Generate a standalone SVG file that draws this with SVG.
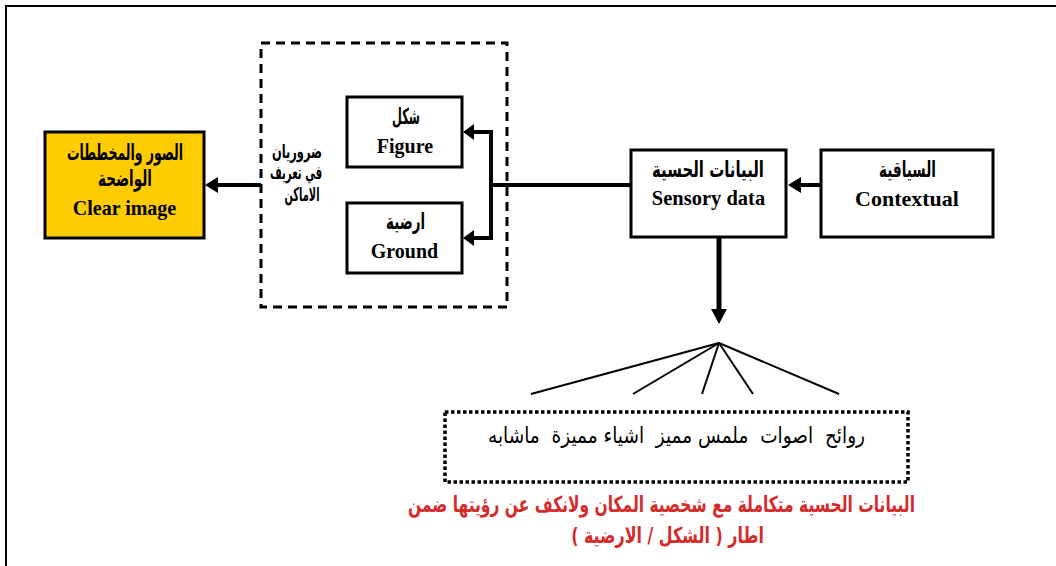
<svg xmlns="http://www.w3.org/2000/svg" width="1056" height="566" viewBox="0 0 1056 566">
<style>
.box{fill:#fff;stroke:#000;stroke-width:3}
.en{font-family:"Liberation Serif","Times New Roman",serif;font-weight:bold;font-size:20px;fill:#000;text-anchor:middle}
.ar{font-family:"DejaVu Sans","Noto Sans",sans-serif;font-weight:bold;font-size:22px;fill:#000;text-anchor:middle;direction:rtl}
.side{font-size:19px}
.items{font-weight:normal;font-size:22px;white-space:pre}
.red{fill:#D42B2B;font-size:22px}
.conn{stroke:#000;stroke-width:4;fill:none}
.fan{stroke:#000;stroke-width:2;fill:none}
.head{fill:#000;stroke:none}
</style>
<rect width="1056" height="566" fill="#fff"/>
<path d="M6 566 V6 H1056" fill="none" stroke="#000" stroke-width="2"/>

<g id="group-dashed">
<rect x="261" y="43" width="246" height="264" fill="none" stroke="#000" stroke-width="3" stroke-dasharray="9 6"/>
<text class="ar side" x="297" y="158" textLength="50" lengthAdjust="spacingAndGlyphs">ضروريان</text>
<text class="ar side" x="296" y="179" textLength="52" lengthAdjust="spacingAndGlyphs">في تعريف</text>
<text class="ar side" x="302" y="201" textLength="35" lengthAdjust="spacingAndGlyphs">الاماكن</text>
</g>

<g id="node-clear">
<rect x="45" y="132" width="159" height="106" fill="#FFCC00" stroke="#000" stroke-width="3"/>
<text class="ar" x="125" y="160" textLength="116" lengthAdjust="spacingAndGlyphs">الصور والمخططات</text>
<text class="ar" x="125" y="186" textLength="54" lengthAdjust="spacingAndGlyphs">الواضحة</text>
<text class="en" x="124.5" y="215">Clear image</text>
</g>

<g id="node-figure">
<rect class="box" x="347" y="97" width="115" height="70"/>
<text class="ar" x="406" y="124" textLength="28" lengthAdjust="spacingAndGlyphs">شكل</text>
<text class="en" x="405" y="153">Figure</text>
</g>

<g id="node-ground">
<rect class="box" x="347" y="203" width="115" height="70"/>
<text class="ar" x="405.5" y="229" textLength="39" lengthAdjust="spacingAndGlyphs">ارضية</text>
<text class="en" x="404.5" y="258">Ground</text>
</g>

<g id="node-sensory">
<rect class="box" x="631" y="150" width="155" height="87"/>
<text class="ar" x="708" y="177" textLength="112" lengthAdjust="spacingAndGlyphs">البيانات الحسية</text>
<text class="en" x="708.5" y="205" style="font-size:20.5px">Sensory data</text>
</g>

<g id="node-contextual">
<rect class="box" x="821" y="150" width="172" height="87"/>
<text class="ar" x="907.5" y="177" textLength="57" lengthAdjust="spacingAndGlyphs">السياقية</text>
<text class="en" x="907" y="206" style="font-size:22px">Contextual</text>
</g>

<g id="node-items">
<rect x="445" y="412" width="463" height="70" fill="none" stroke="#000" stroke-width="3.5" stroke-dasharray="3.5 2.5"/>
<text class="ar items" x="676.5" y="443" textLength="377" lengthAdjust="spacingAndGlyphs">روائح  اصوات  ملمس مميز  اشياء مميزة  ماشابه</text>
</g>

<g id="note">
<text class="ar red" transform="translate(661.5 512) scale(0.704 1)" x="0" y="0">البيانات الحسية متكاملة مع شخصية المكان ولانكف عن رؤيتها ضمن</text>
<text class="ar red" transform="translate(667.5 543) scale(0.724 1)" x="0" y="0">اطار ( الشكل / الارضية )</text>
</g>

<g id="connectors">
<line class="conn" x1="261" y1="185" x2="216" y2="185"/>
<polygon class="head" points="205,185 218,177 218,193"/>
<line class="conn" x1="631" y1="185" x2="491" y2="185"/>
<polyline class="conn" points="472,132 491,132 491,238 472,238"/>
<polygon class="head" points="463,132 474,124 474,140"/>
<polygon class="head" points="463,238 474,230 474,246"/>
<line class="conn" x1="821" y1="185" x2="798" y2="185"/>
<polygon class="head" points="788,185 801,177 801,193"/>
<line x1="719" y1="237" x2="719" y2="312" stroke="#000" stroke-width="5"/>
<polygon class="head" points="719,324 711,309 727,309"/>
<line class="fan" x1="719" y1="343" x2="531" y2="394"/>
<line class="fan" x1="719" y1="343" x2="633" y2="394"/>
<line class="fan" x1="719" y1="343" x2="702" y2="394"/>
<line class="fan" x1="719" y1="343" x2="753" y2="394"/>
<line class="fan" x1="719" y1="343" x2="839" y2="394"/>
</g>
</svg>
